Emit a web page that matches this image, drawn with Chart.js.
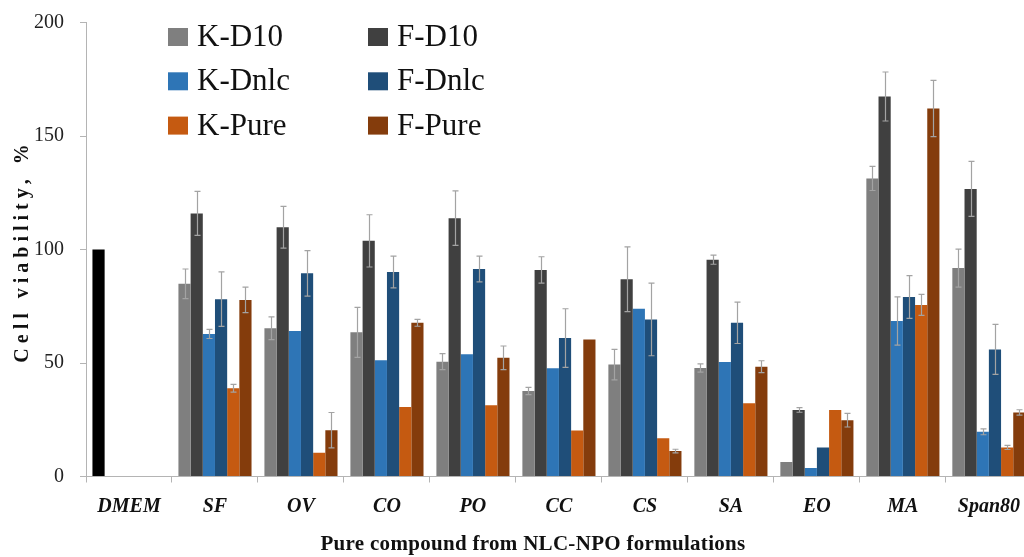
<!DOCTYPE html>
<html>
<head>
<meta charset="utf-8">
<script src="https://cdn.jsdelivr.net/npm/chart.js@4/dist/chart.umd.min.js"></script>
<style>
  html, body { margin: 0; padding: 0; background: #fff; overflow: hidden; }
  #wrap { position: relative; width: 1032px; height: 557px; }
</style>
</head>
<body>
<div id="wrap"><canvas id="viab"></canvas></div>
<script>
/* Cell viability (%) of pure compounds vs. NLC-NPO formulations */

const categories = ["DMEM", "SF", "OV", "CO", "PO", "CC", "CS", "SA", "EO", "MA", "Span80"];

// means (DMEM control sits in the K-D10 slot, drawn black)
const kD10   = [100, 84.9, 65.3, 63.5, 50.6, 37.7, 49.3, 47.8, 6.4, 131.3, 91.8];
const fD10   = [null, 115.9, 109.8, 103.8, 113.8, 91.0, 86.9, 95.5, 29.3, 167.4, 126.7];
const kDnlc  = [null, 62.8, 64.1, 51.2, 53.9, 47.7, 73.9, 50.4, 3.7, 68.5, 19.7];
const fDnlc  = [null, 78.1, 89.5, 90.1, 91.4, 61.0, 69.2, 67.7, 12.8, 79.1, 56.0];
const kPure  = [null, 38.9, 10.5, 30.6, 31.4, 20.3, 16.8, 32.3, 29.3, 75.6, 12.8];
const fPure  = [null, 77.8, 20.4, 67.7, 52.3, 60.4, 11.2, 48.4, 24.8, 162.1, 28.2];

// standard deviations (0 = no bar drawn)
const kD10Err  = [0, 6.5, 5.0, 11.0, 3.5, 1.6, 6.7, 1.8, 0, 5.3, 8.4];
const fD10Err  = [0, 9.7, 9.2, 11.5, 12.0, 5.8, 14.3, 2.0, 1.0, 10.8, 12.1];
const kDnlcErr = [0, 2.0, 0, 0, 0, 0, 0, 0, 0, 10.6, 1.3];
const fDnlcErr = [0, 12.0, 10.0, 7.0, 5.7, 12.9, 16.0, 9.1, 0, 9.4, 11.0];
const kPureErr = [0, 1.7, 0, 0, 0, 0, 0, 0, 0, 4.6, 0.9];
const fPureErr = [0, 5.6, 7.8, 1.5, 5.2, 0, 0.8, 2.6, 3.0, 12.4, 1.2];

const yTicks = [0, 50, 100, 150, 200];

const SERIF = "'Liberation Serif', 'Times New Roman', serif";

const series = [
  { label: "K-D10",  data: kD10,  err: kD10Err,  color: "#7f7f7f" },
  { label: "F-D10",  data: fD10,  err: fD10Err,  color: "#404040" },
  { label: "K-Dnlc", data: kDnlc, err: kDnlcErr, color: "#2e75b6" },
  { label: "F-Dnlc", data: fDnlc, err: fDnlcErr, color: "#1f4e79" },
  { label: "K-Pure", data: kPure, err: kPureErr, color: "#c55a11" },
  { label: "F-Pure", data: fPure, err: fPureErr, color: "#843c0c" }
];

const datasets = series.map((s, i) => ({
  label: s.label,
  data: s.data,
  errors: s.err,
  backgroundColor: i === 0 ? s.data.map((v, j) => j === 0 ? "#000000" : s.color) : s.color,
  legendColor: s.color,
  borderWidth: 0,
  categoryPercentage: 0.85,
  barPercentage: 1.0
}));

// vertical error bars with small caps
const errorBars = {
  id: "errorBars",
  afterDatasetsDraw(chart){
    const ctx = chart.ctx;
    const y = chart.scales.y;
    ctx.save();
    ctx.strokeStyle = "#a3a3a3";
    ctx.lineWidth = 1.2;
    chart.data.datasets.forEach((ds, di) => {
      const meta = chart.getDatasetMeta(di);
      meta.data.forEach((bar, j) => {
        const v = ds.data[j], e = ds.errors[j];
        if(v == null || !e) return;
        const x = Math.round(bar.x) + 0.5;
        const top = y.getPixelForValue(v + e);
        const bot = y.getPixelForValue(v - e);
        ctx.beginPath();
        ctx.moveTo(x, top); ctx.lineTo(x, bot);
        ctx.moveTo(x - 3, top); ctx.lineTo(x + 3, top);
        ctx.moveTo(x - 3, bot); ctx.lineTo(x + 3, bot);
        ctx.stroke();
      });
    });
    ctx.restore();
  }
};

// two-column legend inside the plot, K series left, F series right
const pairLegend = {
  id: "pairLegend",
  afterDraw(chart){
    const ctx = chart.ctx;
    const dsets = chart.data.datasets;
    ctx.save();
    ctx.font = "31px " + SERIF;
    ctx.textBaseline = "alphabetic";
    dsets.forEach((ds, i) => {
      const col = i % 2, row = Math.floor(i / 2);
      const x = 168 + col * 200;
      const y = 28 + row * 44.3;
      ctx.fillStyle = ds.legendColor;
      ctx.fillRect(x, y, 20, 18);
      ctx.fillStyle = "#111";
      ctx.fillText(ds.label, x + 29, y + 18);
    });
    ctx.restore();
  }
};

// axis titles: spaced-out rotated y title, x title under the labels
const axisTitles = {
  id: "axisTitles",
  afterDraw(chart){
    const ctx = chart.ctx;
    ctx.save();
    ctx.fillStyle = "#111";
    ctx.textAlign = "center";
    ctx.textBaseline = "middle";

    ctx.font = "bold 21px " + SERIF;
    ctx.letterSpacing = "0.3px";
    ctx.fillText("Pure compound from NLC-NPO formulations", 533, 545);

    ctx.translate(23, 251);
    ctx.rotate(-Math.PI / 2);
    ctx.font = "bold 20px " + SERIF;
    ctx.letterSpacing = "5px";
    ctx.fillText("Cell viability, %", 0, 0);
    ctx.restore();
  }
};

new Chart(document.getElementById("viab"), {
  type: "bar",
  data: { labels: categories, datasets },
  options: {
    responsive: true,
    maintainAspectRatio: false,
    animation: false,
    layout: { padding: { top: 22.5, left: 0, right: 0, bottom: 0 } },
    plugins: {
      legend: { display: false },
      tooltip: { enabled: false }
    },
    scales: {
      x: {
        afterFit(s){ s.height = 80.5; },
        grid: { display: true, drawOnChartArea: false, offset: true, tickLength: 6, color: "#b4b4b4" },
        border: { color: "#b4b4b4", width: 1 },
        ticks: { font: { family: SERIF, size: 20, style: "italic", weight: "bold" }, color: "#111", padding: 12 }
      },
      y: {
        min: 0,
        max: 200,
        afterFit(s){
          s.width = 86;
          // keep the outer layout padding in charge of the plot top
          s.paddingTop = 12;
          s.paddingBottom = 12;
        },
        afterBuildTicks(s){ s.ticks = yTicks.map(v => ({ value: v })); },
        grid: { display: true, drawOnChartArea: false, tickLength: 6, color: "#b4b4b4" },
        border: { color: "#b4b4b4", width: 1 },
        ticks: { font: { family: SERIF, size: 20 }, color: "#222", padding: 16 }
      }
    }
  },
  plugins: [errorBars, pairLegend, axisTitles]
});
</script>
</body>
</html>
